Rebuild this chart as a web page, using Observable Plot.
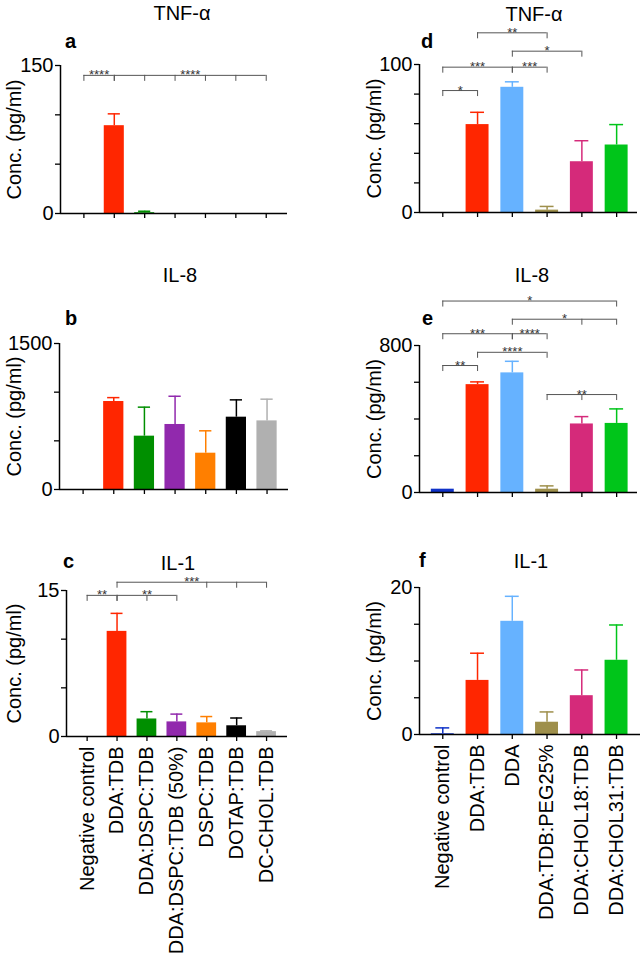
<!DOCTYPE html>
<html>
<head>
<meta charset="utf-8">
<script src="https://cdn.jsdelivr.net/npm/d3@7"></script>
<script src="https://cdn.jsdelivr.net/npm/@observablehq/plot@0.6"></script>
<style>
  body { margin: 0; background: #fff; }
  #fig { position: relative; width: 644px; height: 963px; font-family: "Liberation Sans", Arial, sans-serif; color: #000; }
  .title { position: absolute; font-size: 20px; line-height: 20px; transform: translateX(-50%); white-space: nowrap; }
  .letter { position: absolute; font-size: 20px; line-height: 20px; font-weight: bold; }
</style>
</head>
<body>
<div id="fig"></div>
<script>
// categories
const leftCats = ["Negative control", "DDA:TDB", "DDA:DSPC:TDB", "DDA:DSPC:TDB (50%)", "DSPC:TDB", "DOTAP:TDB", "DC-CHOL:TDB"]
const rightCats = ["Negative control", "DDA:TDB", "DDA", "DDA:TDB:PEG25%", "DDA:CHOL18:TDB", "DDA:CHOL31:TDB"]
const leftColors = ["#0f32c8", "#ff2600", "#008f00", "#9129ad", "#ff7f00", "#000000", "#b0b0b0"]
const rightColors = ["#0f32c8", "#ff2600", "#66b2ff", "#9e8f4b", "#d52a7a", "#00c51a"]

// means and upper error (pg/ml)
const tnfLeft = [0, 89, 0.8, 0, 0, 0, 0]
const tnfLeftErr = [0, 12, 1.5, 0, 0, 0, 0]
const il8Left = [0, 904, 548, 668, 373, 743, 705]
const il8LeftErr = [0, 40, 298, 290, 230, 178, 223]
const il1Left = [0, 10.8, 1.8, 1.5, 1.4, 1.1, 0.5]
const il1LeftErr = [0, 1.85, 0.75, 0.8, 0.65, 0.8, 0.08]

const tnfRight = [0, 59.4, 84.6, 1.6, 34.3, 45.6]
const tnfRightErr = [0, 8.3, 3.7, 2.5, 14.2, 13.8]
const il8Right = [18, 587, 651, 18, 373, 376]
const il8RightErr = [0, 15, 63, 18, 40, 79]
const il1Right = [0.1, 7.36, 15.4, 1.67, 5.28, 10.1]
const il1RightErr = [0.8, 3.7, 3.4, 1.4, 3.5, 4.8]

// significance brackets (category index from/to, extra arms, height in data units)
const tnfLeftSig = [
  {from: 0, to: 1, ticks: [], y: 140, label: "****"},
  {from: 1, to: 6, ticks: [2, 3, 4, 5], y: 140, label: "****"}
]
const il1LeftSig = [
  {from: 0, to: 1, ticks: [], y: 14.5, label: "**"},
  {from: 1, to: 3, ticks: [2], y: 14.5, label: "**"},
  {from: 1, to: 6, ticks: [4, 5], y: 15.85, label: "***"}
]
const tnfRightSig = [
  {from: 0, to: 1, ticks: [], y: 82.4, label: "*"},
  {from: 0, to: 2, ticks: [], y: 98.2, label: "***"},
  {from: 2, to: 3, ticks: [], y: 98.2, label: "***"},
  {from: 1, to: 3, ticks: [], y: 121.4, label: "**"},
  {from: 2, to: 4, ticks: [], y: 109, label: "*"}
]
const il8RightSig = [
  {from: 0, to: 5, ticks: [], y: 1042, label: "*"},
  {from: 2, to: 5, ticks: [4], y: 943, label: "*"},
  {from: 0, to: 2, ticks: [], y: 864, label: "***"},
  {from: 2, to: 3, ticks: [], y: 864, label: "****"},
  {from: 1, to: 3, ticks: [], y: 763, label: "****"},
  {from: 0, to: 1, ticks: [], y: 691, label: "**"},
  {from: 3, to: 5, ticks: [4], y: 533, label: "**"}
]

const fig = document.getElementById("fig")

function panel(o) {
  const rows = o.cats.map((c, i) => ({i, cat: c, value: o.values[i], err: o.errors[i]}))
  const withErr = rows.filter(d => d.err > 0)
  const sig = o.sig || []
  const arms = sig.flatMap(b => [b.from, ...b.ticks, b.to].map(x => ({x, y: b.y})))

  const chart = Plot.plot({
    width: 322,
    height: o.height,
    marginLeft: o.ml,
    marginRight: o.mr,
    marginTop: o.mt,
    marginBottom: o.mb,
    x: {domain: o.xDomain},
    y: {domain: [0, o.yMax]},
    color: {domain: o.cats, range: o.colors},
    style: {
      fontSize: "20px",
      fontFamily: "'Liberation Sans', Arial, sans-serif",
      color: "#000",
      background: "transparent",
      overflow: "visible"
    },
    marks: [
      Plot.axisX({
        ticks: d3.range(o.cats.length),
        tickFormat: i => o.showLabels ? o.cats[i] : "",
        tickSize: 5,
        tickPadding: 5,
        tickRotate: o.showLabels ? -90 : 0,
        strokeWidth: 1.3,
        label: null
      }),
      Plot.axisY({
        ticks: o.yTicks,
        tickFormat: d => (d === 0 || d === o.yMax ? String(d) : ""),
        tickSize: 5,
        tickPadding: 2,
        strokeWidth: 1.3,
        label: null
      }),
      Plot.rectY(rows, {x1: d => d.i - 0.33, x2: d => d.i + 0.33, y1: 0, y2: "value", fill: "cat"}),
      Plot.ruleX(withErr, {x: "i", y1: "value", y2: d => d.value + d.err, stroke: "cat", strokeWidth: 1.5}),
      Plot.ruleY(withErr, {x1: d => d.i - 0.2, x2: d => d.i + 0.2, y: d => d.value + d.err, stroke: "cat", strokeWidth: 1.5}),
      Plot.ruleY([0], {strokeWidth: 1.5}),
      Plot.ruleX([o.xDomain[0]], {y1: 0, y2: o.yMax, strokeWidth: 1.5}),
      Plot.ruleY(sig, {x1: "from", x2: "to", y: "y", stroke: "#555", strokeWidth: 1}),
      Plot.ruleX(arms, {x: "x", y1: "y", y2: "y", insetTop: 6, insetBottom: 0, stroke: "#555", strokeWidth: 1}),
      Plot.text(sig, {x: d => (d.from + d.to) / 2, y: "y", text: "label", lineAnchor: "bottom", dy: 4, fontSize: 13, fill: "#333"}),
      Plot.text(["Conc. (pg/ml)"], {text: d => d, frameAnchor: "left", textAnchor: "middle", rotate: -90, dx: o.labelX - o.ml, lineAnchor: "bottom", fontSize: 20})
    ]
  })
  chart.style.position = "absolute"
  chart.style.left = o.left + "px"
  chart.style.top = o.top + "px"
  fig.append(chart)

  const t = document.createElement("div")
  t.className = "title"
  t.textContent = o.title
  t.style.left = o.titleX + "px"
  t.style.top = (o.titleBase - 17) + "px"
  fig.append(t)

  const l = document.createElement("div")
  l.className = "letter"
  l.textContent = o.letter
  l.style.left = o.letterX + "px"
  l.style.top = (o.letterBase - 17) + "px"
  fig.append(l)
}

// left column
panel({cats: leftCats, colors: leftColors, values: tnfLeft, errors: tnfLeftErr, sig: tnfLeftSig,
  yMax: 150, yTicks: [0, 50, 100, 150], xDomain: [-0.77, 6.7], showLabels: false,
  left: 0, top: 0, height: 225, ml: 60, mr: 35, mt: 65, mb: 12, labelX: 20,
  title: "TNF-α", titleX: 182, titleBase: 20, letter: "a", letterX: 65, letterBase: 48})
panel({cats: leftCats, colors: leftColors, values: il8Left, errors: il8LeftErr,
  yMax: 1500, yTicks: [0, 500, 1000, 1500], xDomain: [-0.77, 6.7], showLabels: false,
  left: 0, top: 250, height: 251, ml: 59, mr: 34, mt: 93, mb: 12, labelX: 20,
  title: "IL-8", titleX: 180, titleBase: 282, letter: "b", letterX: 65, letterBase: 325})
panel({cats: leftCats, colors: leftColors, values: il1Left, errors: il1LeftErr, sig: il1LeftSig,
  yMax: 15, yTicks: [0, 5, 10, 15], xDomain: [-0.69, 6.7], showLabels: true,
  left: 0, top: 540, height: 423, ml: 66, mr: 35, mt: 50, mb: 227, labelX: 20,
  title: "IL-1", titleX: 178, titleBase: 570, letter: "c", letterX: 63, letterBase: 568})

// right column
panel({cats: rightCats, colors: rightColors, values: tnfRight, errors: tnfRightErr, sig: tnfRightSig,
  yMax: 100, yTicks: [0, 20, 40, 60, 80, 100], xDomain: [-0.67, 5.6], showLabels: false,
  left: 322, top: 0, height: 224, ml: 97, mr: 7, mt: 64, mb: 12, labelX: 58,
  title: "TNF-α", titleX: 534, titleBase: 21, letter: "d", letterX: 421, letterBase: 48})
panel({cats: rightCats, colors: rightColors, values: il8Right, errors: il8RightErr, sig: il8RightSig,
  yMax: 800, yTicks: [0, 200, 400, 600, 800], xDomain: [-0.67, 5.6], showLabels: false,
  left: 322, top: 250, height: 254, ml: 97, mr: 7, mt: 95, mb: 12, labelX: 58,
  title: "IL-8", titleX: 532, titleBase: 282, letter: "e", letterX: 422, letterBase: 325})
panel({cats: rightCats, colors: rightColors, values: il1Right, errors: il1RightErr,
  yMax: 20, yTicks: [0, 5, 10, 15, 20], xDomain: [-0.67, 5.69], showLabels: true,
  left: 322, top: 540, height: 423, ml: 97, mr: 4, mt: 47, mb: 229, labelX: 58,
  title: "IL-1", titleX: 531, titleBase: 568, letter: "f", letterX: 419, letterBase: 567})
</script>
</body>
</html>
